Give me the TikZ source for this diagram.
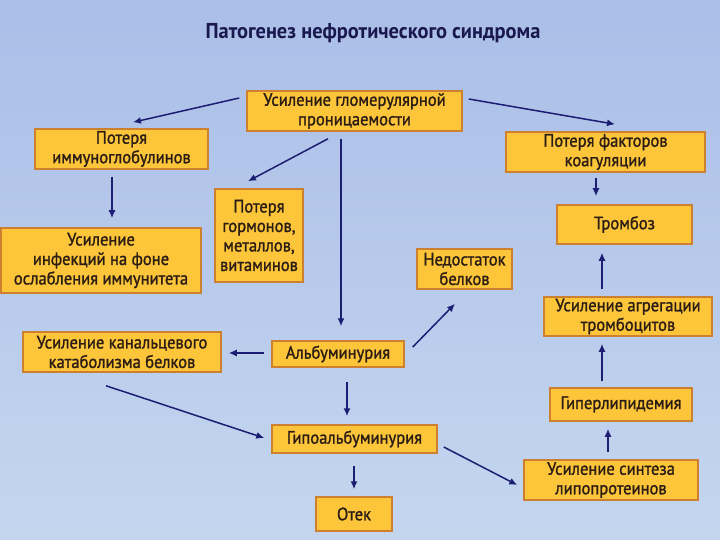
\documentclass[tikz,border=0pt]{standalone}
\usepackage{fontspec}
\setmainfont{PT Sans}[FakeBold=1.3,FakeStretch=0.92]
\newfontfamily\titlefont{PT Sans}[FakeStretch=0.95]
\usetikzlibrary{arrows.meta,calc}
\definecolor{bgtop}{RGB}{170,190,232}
\definecolor{bgbot}{RGB}{196,214,238}
\definecolor{boxfill}{RGB}{253,198,58}
\definecolor{boxline}{RGB}{205,128,48}
\definecolor{boxtext}{RGB}{43,29,20}
\definecolor{arrcol}{RGB}{28,30,115}
\definecolor{titlecol}{RGB}{25,25,80}
\tikzset{
  box/.style={draw=boxline, fill=boxfill, line width=1.5pt, text=boxtext,
    align=center, inner sep=0pt, font=\fontsize{18}{19.5}\selectfont},
  arr/.style={draw=arrcol, line width=1.5pt, -{Latex[length=8pt,width=7pt]}}
}
\newcommand{\bx}[5]{\node[box, minimum width=#3pt, minimum height=#4pt] (#1) at (#2) {#5};}
\begin{document}
\begin{tikzpicture}[x=1pt,y=-1pt]
\shade[top color=bgtop, bottom color=bgbot] (0,0) rectangle (720,540);
\useasboundingbox (0,0) rectangle (720,540);
\node[text=titlecol, font=\titlefont\bfseries\fontsize{21.5}{24}\selectfont] (title) at (373,33) {Патогенез нефротического синдрома};
\bx{glom}{354.5,111}{215}{40}{Усиление гломерулярной\\проницаемости}
\bx{immun}{121.5,149}{173}{40}{Потеря\\иммуноглобулинов}
\bx{infect}{101,260.5}{200}{65}{Усиление\\инфекций на фоне\\ослабления иммунитета}
\bx{horm}{259,235.5}{88}{93}{Потеря\\гормонов,\\металлов,\\витаминов}
\bx{coag}{605.5,152}{199}{40}{Потеря факторов\\коагуляции}
\bx{tromb}{624.5,224.5}{135}{39}{Тромбоз}
\bx{nedost}{464.5,269}{95}{40}{Недостаток\\белков}
\bx{aggreg}{628,316.5}{168}{39}{Усиление агрегации\\тромбоцитов}
\bx{hyperlip}{621,404.5}{142}{33}{Гиперлипидемия}
\bx{sintez}{611,480}{174}{40}{Усиление синтеза\\липопротеинов}
\bx{albu}{338,354}{132}{26}{Альбуминурия}
\bx{hypo}{354.5,439}{165}{28}{Гипоальбуминурия}
\bx{otek}{354,514}{76}{34}{Отек}
\bx{kanal}{122,352}{198}{40}{Усиление канальцевого\\катаболизма белков}
% arrows
\draw[arr] ([shift={(-7,-13)}]glom.west) -- ([shift={(11.5,-6)}]immun.north);
\draw[arr] ([shift={(-26.5,7)}]glom.south) -- ([shift={(-11,-7)}]horm.north);
\draw[arr] ([shift={(-13.5,7)}]glom.south) -- ([shift={(3,-14)}]albu.north);
\draw[arr] ([shift={(6,-12)}]glom.east) -- ([shift={(9.5,-7)}]coag.north);
\draw[arr] ([shift={(-9.5,7)}]immun.south) -- ([shift={(11,-9)}]infect.north);
\draw[arr] ([shift={(-9.5,5)}]coag.south) -- ([shift={(-28.5,-8)}]tromb.north);
\draw[arr] ([shift={(-26,-7)}]aggreg.north) -- ([shift={(-22.5,8)}]tromb.south);
\draw[arr] ([shift={(-19,-6)}]hyperlip.north) -- ([shift={(-26,7)}]aggreg.south);
\draw[arr] ([shift={(-3,-7)}]sintez.north) -- ([shift={(-13,7)}]hyperlip.south);
\draw[arr] ([shift={(8,-7)}]albu.east) -- ([shift={(-9.5,14)}]nedost.south);
\draw[arr] ([shift={(-7,-1)}]albu.west) -- ([shift={(7,1)}]kanal.east);
\draw[arr] ([shift={(9,14)}]albu.south) -- ([shift={(-7.5,-8)}]hypo.north);
\draw[arr] ([shift={(-16,13)}]kanal.south) -- ([shift={(-7,-1)}]hypo.west);
\draw[arr] ([shift={(6,8)}]hypo.east) -- ([shift={(-6,5)}]sintez.west);
\draw[arr] ([shift={(-0.5,12)}]hypo.south) -- ([shift={(0,-7)}]otek.north);
\end{tikzpicture}
\end{document}
